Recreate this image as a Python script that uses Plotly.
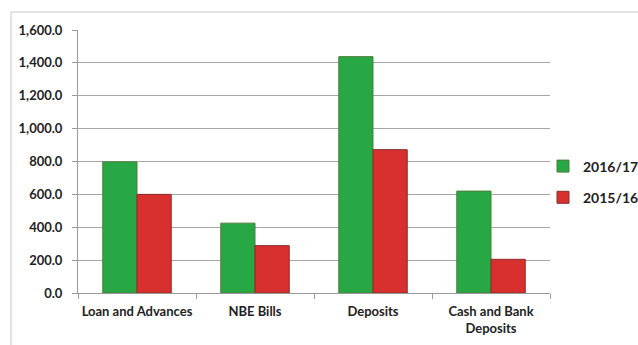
import plotly.graph_objects as go

categories = ["Loan and Advances", "NBE Bills", "Deposits", "Cash and Bank<br>Deposits"]
values_2016_17 = [798, 425, 1438, 620]
values_2015_16 = [600, 288, 872, 205]
y_ticks = [0, 200, 400, 600, 800, 1000, 1200, 1400, 1600]
y_tick_labels = ["0.0", "200.0", "400.0", "600.0", "800.0", "1,000.0", "1,200.0", "1,400.0", "1,600.0"]

FONT = "Lato, 'Open Sans', sans-serif"

fig = go.Figure()
fig.add_trace(go.Bar(
    name="2016/17", x=categories, y=values_2016_17, legendgroup="a",
    marker=dict(color="#27a845", line=dict(color="#4f7d3a", width=1)),
))
fig.add_trace(go.Bar(
    name="2015/16", x=categories, y=values_2015_16, legendgroup="b",
    marker=dict(color="#d7302f", line=dict(color="#8c2a28", width=1)),
))

W, H = 638, 345
L, R, T, B = 78, 88, 30, 52
pw, ph = W - L - R, H - T - B


def px_x(px):
    return (px - L) / pw


def px_y(py):
    return (H - B - py) / ph


fig.update_layout(
    width=W, height=H,
    margin=dict(l=L, r=R, t=T, b=B, autoexpand=False),
    paper_bgcolor="white", plot_bgcolor="white",
    barmode="group", bargap=0.42, bargroupgap=0,
    font=dict(family=FONT, size=13, color="#222222"),
    showlegend=True,
    legend=dict(
        x=px_x(543), y=px_y(182), xanchor="left", yanchor="middle",
        font=dict(family=FONT, size=14, color="#222222", weight="bold"),
        itemwidth=30, tracegroupgap=10, bgcolor="rgba(0,0,0,0)",
    ),
    xaxis=dict(
        automargin=False, tickangle=0,
        showgrid=False, showline=True, linecolor="#9a9a9a", linewidth=1,
        ticks="outside", tickson="boundaries", ticklen=5, tickcolor="#9a9a9a",
        ticklabelstandoff=6,
        tickfont=dict(family=FONT, size=13, color="#222222", weight="bold"),
    ),
    yaxis=dict(
        automargin=False,
        range=[0, 1600], tickvals=y_ticks, ticktext=y_tick_labels,
        showgrid=True, gridcolor="#a6a6a6", gridwidth=1,
        showline=True, linecolor="#9a9a9a", linewidth=1,
        ticks="outside", ticklen=5, tickcolor="#9a9a9a",
        ticklabelstandoff=7,
        tickfont=dict(family=FONT, size=13, color="#222222", weight="bold"),
        zeroline=False,
    ),
    shapes=[dict(
        type="rect", xref="paper", yref="paper",
        x0=px_x(11), x1=px_x(660), y0=px_y(370), y1=px_y(12),
        line=dict(color="#c8c8c8", width=1), fillcolor="rgba(0,0,0,0)",
        layer="below",
    )],
)

fig.write_html("out.html")
